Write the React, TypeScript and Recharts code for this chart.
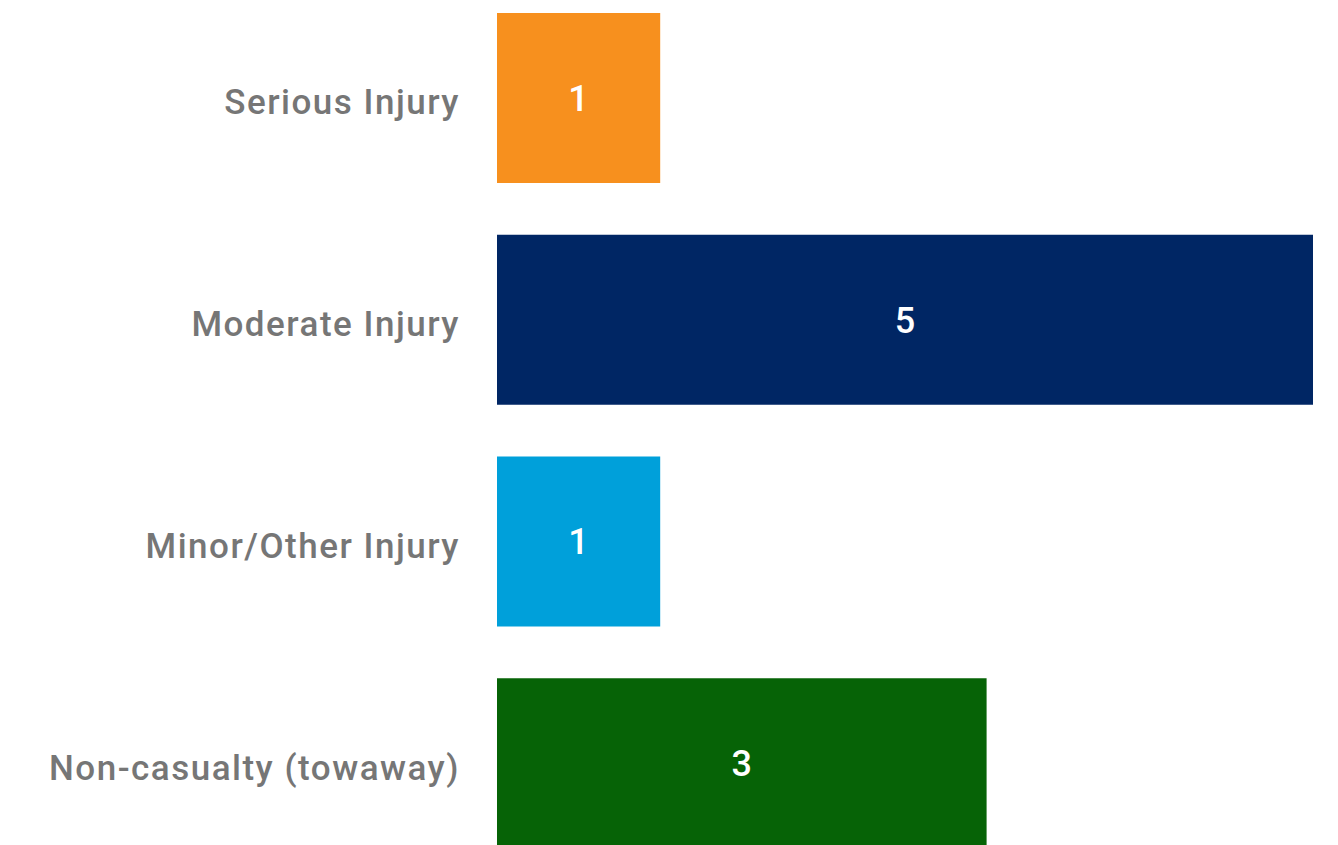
import { BarChart, Bar, XAxis, YAxis, Cell, LabelList } from "recharts";

const categories = [
  "Serious Injury",
  "Moderate Injury",
  "Minor/Other Injury",
  "Non-casualty (towaway)",
];
const counts = [1, 5, 1, 3];
const barColors = ["#F7901E", "#002664", "#00A0DA", "#066306"];

const data = categories.map((name, i) => ({ name, count: counts[i] }));

const FONT = "Roboto, 'DejaVu Sans', sans-serif";

// category label, nudged a little below the bar centre like the original
const CategoryTick = (props: any) => {
  const { x, y, payload } = props;
  return (
    <text
      x={x}
      y={y + 4}
      dy="0.355em"
      textAnchor="end"
      fill="#767676"
      fontSize={35}
      fontFamily={FONT}
      fontWeight={500}
      letterSpacing={1.5}
    >
      {payload.value}
    </text>
  );
};

export default function App() {
  return (
    <div
      style={{
        position: "absolute",
        left: 0,
        top: 0,
        width: 1338,
        height: 845,
        overflow: "hidden",
        background: "#fff",
      }}
    >
      <div style={{ position: "absolute", left: 0, top: -13 }}>
        <BarChart
          layout="vertical"
          width={1338}
          height={887}
          data={data}
          margin={{ top: 0, right: 25, bottom: 0, left: 0 }}
          barSize={170}
        >
          <XAxis type="number" domain={[0, 5]} hide />
          <YAxis
            type="category"
            dataKey="name"
            width={497}
            axisLine={false}
            tickLine={false}
            tickSize={0}
            tickMargin={37}
            tick={<CategoryTick />}
          />
          <Bar dataKey="count" isAnimationActive={false}>
            {data.map((d, i) => (
              <Cell key={d.name} fill={barColors[i]} />
            ))}
            <LabelList
              dataKey="count"
              position="center"
              fill="#fff"
              style={{ fontSize: 36, fontFamily: FONT, fontWeight: 500 }}
            />
          </Bar>
        </BarChart>
      </div>
    </div>
  );
}
